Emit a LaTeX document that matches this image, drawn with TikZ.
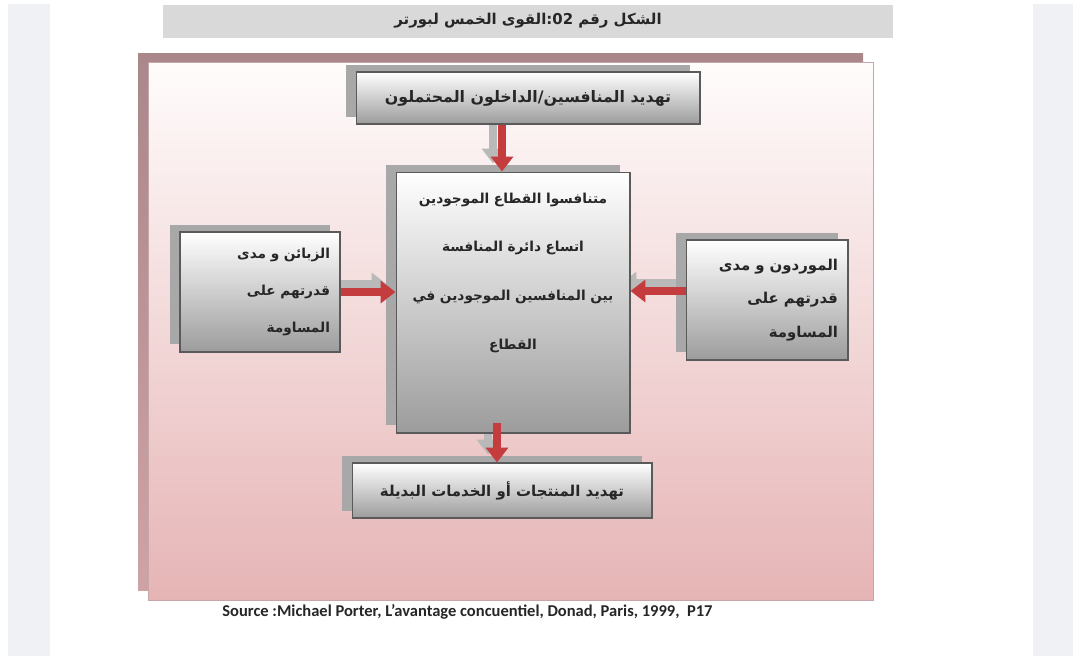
\documentclass[tikz,border=0pt]{standalone}
\usepackage{fontspec}
\setmainfont{Carlito}
\newfontfamily\arabicfont[Script=Arabic]{DejaVu Sans}
\TeXXeTstate=1
\usetikzlibrary{arrows.meta,shadows,positioning}

\definecolor{sidegray}{HTML}{F0F1F4}
\definecolor{titlegray}{HTML}{D9D9D9}
\definecolor{frameshade}{HTML}{A9878A}
\definecolor{frameshadelow}{HTML}{CFA3A6}
\definecolor{paneltop}{HTML}{FFFCFC}
\definecolor{panelbottom}{HTML}{E6B4B5}
\definecolor{panelline}{HTML}{C6A6A8}
\definecolor{boxgray}{HTML}{9C9C9C}
\definecolor{boxline}{HTML}{5A5A5A}
\definecolor{boxshade}{HTML}{A8A8A8}
\definecolor{forcered}{HTML}{C43C3D}
\definecolor{arrowshade}{HTML}{B9B9B9}

\pgfdeclarelayer{background}
\pgfsetlayers{background,main}

\tikzset{
  forcebox/.style={draw=boxline, line width=0.6pt, top color=white, bottom color=boxgray,
    general shadow={fill=boxshade, shadow xshift=-0.2cm, shadow yshift=0.15cm},
    inner sep=0pt},
  forcetext/.style 2 args={font=\arabicfont\bfseries\fontsize{#1}{#2}\selectfont, text=black!85},
  redforce/.style={draw=forcered, line width=4.5pt, -{Triangle[width=12.5pt,length=8.5pt]}},
  greyforce/.style={draw=arrowshade, line width=4.5pt, -{Triangle[width=12.5pt,length=8.5pt]}}
}

\begin{document}
\begin{tikzpicture}[x=0.02cm, y=-0.02cm]
  \useasboundingbox (0,0) rectangle (1074,656);

  % page
  \fill[sidegray] (8,4) rectangle (50,656);
  \fill[sidegray] (1033,4) rectangle (1073,656);
  \fill[titlegray] (163,5) rectangle (893,38);
  \node[forcetext={8.5}{10}] (title) at (528,21)
    {\beginR الشكل رقم \beginL 02\endL:القوى الخمس لبورتر\endR};

  % boxes
  \node[forcebox, minimum width=6.88cm, minimum height=1.04cm, forcetext={9}{11}] (entrants) at (528,98)
    {\beginR تهديد المنافسين/الداخلون المحتملون\endR};
  \node[forcebox, minimum width=4.68cm, minimum height=5.22cm] (rivals) at (513,302.5) {};
  \node[forcetext={7.8}{27.8}, align=center, text width=4.4cm, below=0.3cm of rivals.north] (rivalstxt)
    {\beginR متنافسوا القطاع الموجودين\endR\\
     \beginR اتساع دائرة المنافسة\endR\\
     \beginR بين المنافسين الموجودين في\endR\\
     \beginR القطاع\endR};
  \node[forcebox, minimum width=3.2cm, minimum height=2.4cm, forcetext={7.8}{21},
        align=right, text width=2.8cm] (buyers) at (260,292)
    {\beginR الزبائن و مدى\endR\\
     \beginR قدرتهم على\endR\\
     \beginR المساومة\endR};
  \node[forcebox, minimum width=3.24cm, minimum height=2.4cm, forcetext={8.5}{19},
        align=right, text width=2.84cm] (suppliers) at (767,300)
    {\beginR الموردون و مدى\endR\\
     \beginR قدرتهم على\endR\\
     \beginR المساومة\endR};
  \node[forcebox, minimum width=6.0cm, minimum height=1.1cm, forcetext={8.5}{10}] (substitutes) at (502,490.5)
    {\beginR تهديد المنتجات أو الخدمات البديلة\endR};

  \node[font=\bfseries\fontsize{9.4}{11}\selectfont, text=black!85, anchor=west, inner sep=0pt] (source) at (222,612)
    {Source :Michael Porter, L'avantage concuentiel, Donad, Paris, 1999,\ \ P17};

  % arrow axes
  \coordinate (topaxis) at (502,0);
  \coordinate (lowaxis) at (497,0);

  \begin{pgfonlayer}{background}
    % frame
    \fill[top color=frameshade, bottom color=frameshadelow] (138,53) rectangle (863,590);
    \draw[panelline, line width=0.5pt, top color=paneltop, bottom color=panelbottom]
      (148,62) rectangle (873,600);
    % arrow shadows
    \begin{scope}[transform canvas={shift={(-0.18cm,0.16cm)}}]
      \draw[greyforce] (entrants.south -| topaxis) -- (rivals.north -| topaxis);
      \draw[greyforce] (buyers.east) -- (buyers.east -| rivals.west);
      \draw[greyforce] ([yshift=0.18cm]suppliers.west) -- ([yshift=0.18cm]suppliers.west -| rivals.east);
      \draw[greyforce] ([yshift=0.22cm]rivals.south -| lowaxis) -- (substitutes.north -| lowaxis);
    \end{scope}
  \end{pgfonlayer}

  % arrows
  \draw[redforce] (entrants.south -| topaxis) -- (rivals.north -| topaxis);
  \draw[redforce] (buyers.east) -- (buyers.east -| rivals.west);
  \draw[redforce] ([yshift=0.18cm]suppliers.west) -- ([yshift=0.18cm]suppliers.west -| rivals.east);
  \draw[redforce] ([yshift=0.22cm]rivals.south -| lowaxis) -- (substitutes.north -| lowaxis);
\end{tikzpicture}
\end{document}
